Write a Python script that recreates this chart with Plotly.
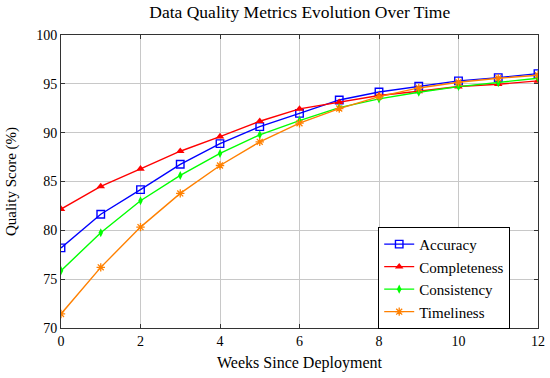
import plotly.graph_objects as go

weeks = list(range(13))
accuracy = [78.2, 81.65, 84.17, 86.76, 88.88, 90.62, 91.98, 93.35, 94.17, 94.75, 95.3, 95.64, 96.05]
completeness = [82.18, 84.5, 86.3, 88.1, 89.6, 91.17, 92.43, 93.12, 93.8, 94.24, 94.72, 94.96, 95.3]
consistency = [75.87, 79.75, 83.03, 85.62, 87.87, 89.78, 91.24, 92.57, 93.46, 94.14, 94.72, 95.12, 95.57]
timeliness = [71.44, 76.21, 80.33, 83.78, 86.64, 89.06, 90.97, 92.47, 93.69, 94.58, 95.16, 95.57, 95.88]

x_ticks = [0, 2, 4, 6, 8, 10, 12]
y_ticks = [70, 75, 80, 85, 90, 95, 100]

FONT = "Liberation Serif"

fig = go.Figure()
fig.add_trace(go.Scatter(x=weeks, y=accuracy, name="Accuracy", mode="lines+markers",
                         line=dict(color="#0000ff", width=1.4),
                         marker=dict(symbol="square-open", size=7.5, color="#0000ff", line=dict(width=1.4))))
fig.add_trace(go.Scatter(x=weeks, y=completeness, name="Completeness", mode="lines+markers",
                         line=dict(color="#ff0000", width=1.4),
                         marker=dict(symbol="triangle-up", size=7.5, color="#ff0000")))
fig.add_trace(go.Scatter(x=weeks, y=consistency, name="Consistency", mode="lines+markers",
                         line=dict(color="#00ff00", width=1.4),
                         marker=dict(symbol="diamond-tall", size=6.5, color="#00ff00")))
fig.add_trace(go.Scatter(x=weeks, y=timeliness, name="Timeliness", mode="lines+markers",
                         line=dict(color="#ff8000", width=1.4),
                         marker=dict(symbol="asterisk-open", size=7, color="#ff8000", line=dict(width=1.3, color="#ff8000"))))

fig.update_layout(
    width=550, height=378,
    margin=dict(l=61, r=12, t=35, b=50, autoexpand=False),
    paper_bgcolor="white", plot_bgcolor="white",
    font=dict(family=FONT, size=14, color="black"),
    title=dict(text="Data Quality Metrics Evolution Over Time", x=0.545, xanchor="center",
               y=0.968, yanchor="middle", font=dict(size=17.5), automargin=False),
    showlegend=True,
    legend=dict(x=0.665, y=0.345, xanchor="left", yanchor="top",
                bordercolor="black", borderwidth=1, bgcolor="white",
                font=dict(size=15), tracegroupgap=0),
)
fig.update_xaxes(range=[0, 12], tickvals=x_ticks, showgrid=True, gridcolor="#c8c8c8",
                 showline=True, linecolor="#333", linewidth=1, mirror="ticks",
                 ticks="inside", ticklen=4, tickcolor="#333", zeroline=False, automargin=False,
                 title=dict(text="Weeks Since Deployment", font=dict(size=16), standoff=9),
                 tickfont=dict(size=14))
fig.update_yaxes(range=[70, 100], tickvals=y_ticks, showgrid=True, gridcolor="#c8c8c8",
                 showline=True, linecolor="#333", linewidth=1, mirror="ticks",
                 ticks="inside", ticklen=4, tickcolor="#333", zeroline=False, automargin=False,
                 title=dict(text="Quality Score (%)", font=dict(size=15)), tickfont=dict(size=14))

fig.write_html("out.html", config={"displayModeBar": False},
               post_script="document.body.style.margin='0';document.body.style.overflow='hidden';")
